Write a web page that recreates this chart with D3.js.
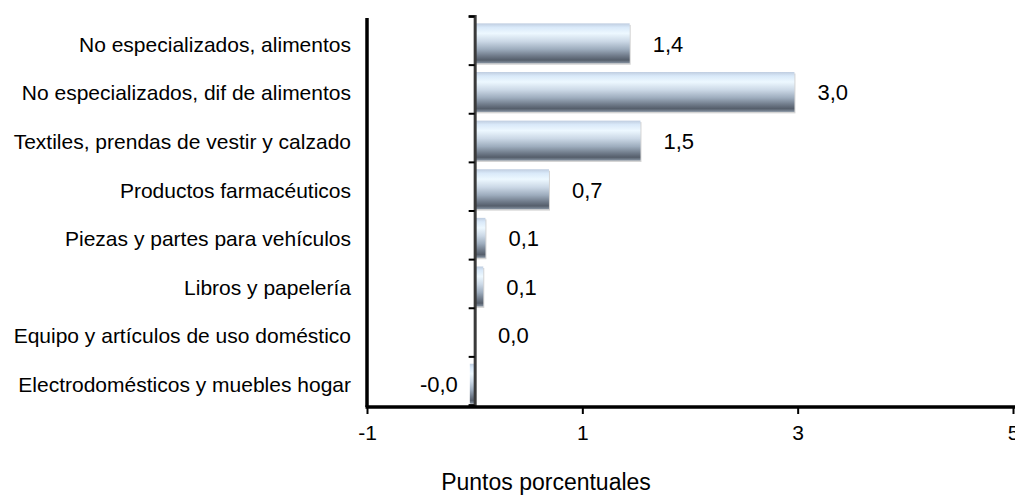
<!DOCTYPE html>
<html>
<head>
<meta charset="utf-8">
<script src="https://cdn.jsdelivr.net/npm/d3@7"></script>
<style>
  html, body { margin: 0; padding: 0; background: #fff; }
  svg { display: block; font-family: "Liberation Sans", Arial, sans-serif; }
  .cat-label, .tick text { fill: #000; font-size: 21px; }
  .val-label { fill: #000; font-size: 22px; }
</style>
</head>
<body>
<div id="chart"></div>
<script>
// categories top → bottom, values in percentage points
const categories = [
  'No especializados, alimentos',
  'No especializados, dif de alimentos',
  'Textiles, prendas de vestir y calzado',
  'Productos farmacéuticos',
  'Piezas y partes para vehículos',
  'Libros y papelería',
  'Equipo y artículos de uso doméstico',
  'Electrodomésticos y muebles hogar'
];
const values = [1.44, 2.97, 1.54, 0.69, 0.10, 0.08, 0.004, -0.045];
const xTicks = [-1, 1, 3, 5];
const xTitle = 'Puntos porcentuales';

const W = 1015, H = 496;
const plot = { left: 367, right: 1013, top: 16, bottom: 405 };

const svg = d3.select('#chart')
  .append('svg')
    .attr('width', W)
    .attr('height', H);

// ── bar gradient (Excel-ish silver/blue)
const grad = svg.append('defs')
  .append('linearGradient')
    .attr('id', 'barGrad')
    .attr('x1', 0).attr('y1', 0)
    .attr('x2', 0).attr('y2', 1);
[
  [0.00, '#bfcde0'],
  [0.10, '#d9e9f9'],
  [0.25, '#edf8ff'],
  [0.45, '#cbd8e6'],
  [0.65, '#9dacbd'],
  [0.82, '#6e7988'],
  [0.92, '#555e6b'],
  [1.00, '#8794a3']
].forEach(([o, c]) => grad.append('stop').attr('offset', o).attr('stop-color', c));

const x = d3.scaleLinear()
  .domain([-1, 5])
  .range([plot.left, plot.right]);

const y = d3.scaleBand()
  .domain(categories)
  .range([plot.top, plot.bottom])
  .paddingInner(0.18)
  .paddingOuter(0.09);

// linear helper for the category boundary ticks
const yEdge = d3.scaleLinear()
  .domain([0, categories.length])
  .range([plot.top, plot.bottom]);

const barShift = 3;

// ── left frame line at x = -1
svg.append('line')
  .attr('x1', x(-1)).attr('x2', x(-1))
  .attr('y1', plot.top + 2).attr('y2', plot.bottom + 2)
  .attr('stroke', '#000')
  .attr('stroke-width', 3.5);

// ── bar shadows + bars
const bars = svg.append('g').attr('class', 'bars');

bars.selectAll('.shadow')
  .data(values)
  .enter()
  .append('rect')
    .attr('class', 'shadow')
    .attr('x', d => Math.min(x(0), x(d)) + 1)
    .attr('y', (d, i) => y(categories[i]) + barShift + 1.5)
    .attr('width', d => Math.abs(x(d) - x(0)))
    .attr('height', y.bandwidth())
    .attr('fill', '#d4d4d4');

bars.selectAll('.bar')
  .data(values)
  .enter()
  .append('rect')
    .attr('class', 'bar')
    .attr('x', d => Math.min(x(0), x(d)))
    .attr('y', (d, i) => y(categories[i]) + barShift)
    .attr('width', d => Math.abs(x(d) - x(0)))
    .attr('height', y.bandwidth())
    .attr('fill', 'url(#barGrad)');

// ── zero axis with boundary ticks
svg.append('g')
  .attr('class', 'axis axis--zero')
  .attr('transform', `translate(${x(0)},0)`)
  .call(
    d3.axisLeft(yEdge)
      .tickValues(d3.range(categories.length + 1))
      .tickSize(6)
      .tickFormat('')
  )
  .call(g => g.select('.domain').attr('stroke', '#3a3a3a').attr('stroke-width', 3))
  .call(g => g.selectAll('.tick line').attr('stroke', '#000').attr('stroke-width', 2));

// ── category labels
svg.append('g')
  .selectAll('.cat-label')
  .data(categories)
  .enter()
  .append('text')
    .attr('class', 'cat-label')
    .attr('x', 351)
    .attr('y', d => y(d) + barShift + y.bandwidth() / 2)
    .attr('dy', '0.4em')
    .attr('text-anchor', 'end')
    .text(d => d);

// ── value labels
const fmt = v => v.toFixed(1).replace('.', ',');
svg.append('g')
  .selectAll('.val-label')
  .data(values)
  .enter()
  .append('text')
    .attr('class', 'val-label')
    .attr('x', d => d < 0 ? x(d) - 12 : x(d) + 23)
    .attr('y', (d, i) => y(categories[i]) + barShift + y.bandwidth() / 2)
    .attr('dy', '0.38em')
    .attr('text-anchor', d => d < 0 ? 'end' : 'start')
    .text(fmt);

// ── x axis
svg.append('g')
  .attr('class', 'axis axis--x')
  .attr('transform', `translate(0,${plot.bottom + 2})`)
  .call(
    d3.axisBottom(x)
      .tickValues(xTicks)
      .tickSize(7)
      .tickPadding(11)
      .tickFormat(d => String(d))
  )
  .call(g => g.select('.domain')
    .attr('d', `M${x(-1) - 1.5},0H${W}`)
    .attr('stroke', '#000')
    .attr('stroke-width', 3.5))
  .call(g => g.selectAll('.tick line').attr('stroke', '#000').attr('stroke-width', 2))
  .call(g => g.selectAll('.tick text').attr('font-size', null).attr('font-family', null));

svg.append('text')
  .attr('class', 'axis-label')
  .attr('x', 546)
  .attr('y', 490)
  .attr('text-anchor', 'middle')
  .attr('font-size', '23px')
  .attr('fill', '#000')
  .text(xTitle);
</script>
</body>
</html>
